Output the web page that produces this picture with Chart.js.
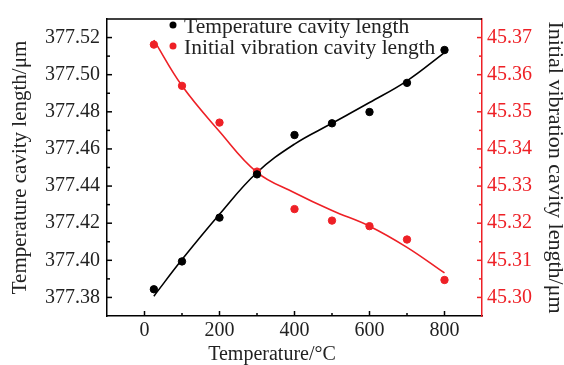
<!DOCTYPE html>
<html>
<head>
<meta charset="utf-8">
<script src="https://cdn.jsdelivr.net/npm/chart.js@4/dist/chart.umd.min.js"></script>
<style>
  html, body { margin: 0; padding: 0; background: #fff; }
  #wrap { width: 564px; height: 365px; }
</style>
</head>
<body>
<div id="wrap"><canvas id="chart" width="564" height="365"></canvas></div>
<script>
// measured temperatures (°C)
const temps = [25, 100, 200, 300, 400, 500, 600, 700, 800];

// temperature cavity length (μm), left axis
const tempCavity = [377.3844, 377.3994, 377.4230, 377.4463, 377.4675, 377.4738, 377.4799, 377.4956, 377.5133];
// initial vibration cavity length (μm), right axis
const vibCavity = [45.3681, 45.3570, 45.3471, 45.3339, 45.3238, 45.3207, 45.3192, 45.3156, 45.3047];

// fitted curves at the same temperatures
const tempCavityFit = [377.3807, 377.4004, 377.4248, 377.4473, 377.4626, 377.4738, 377.4850, 377.4967, 377.5119];
const vibCavityFit = [45.3693, 45.3570, 45.3447, 45.3337, 45.3282, 45.3234, 45.3192, 45.3135, 45.3066];

// axis ticks
const xTicks = [0, 200, 400, 600, 800];
const leftTicks = [377.38, 377.40, 377.42, 377.44, 377.46, 377.48, 377.50, 377.52];
const rightTicks = [45.30, 45.31, 45.32, 45.33, 45.34, 45.35, 45.36, 45.37];

const seriesNames = ["Temperature cavity length", "Initial vibration cavity length"];

const RED = "rgb(238,32,38)";
const BLACK = "#000";
const FONT = "'Liberation Serif', 'DejaVu Serif', serif";

Chart.defaults.font.family = FONT;
Chart.defaults.font.size = 20;
Chart.defaults.color = "#222";

const pts = (ys) => temps.map((t, i) => ({ x: t, y: ys[i] }));

// inward major/minor ticks, top frame line, legend and x title
const decor = {
  id: "decor",
  afterDraw(chart) {
    const ctx = chart.ctx;
    const area = chart.chartArea;
    ctx.save();
    ctx.lineWidth = 1.5;

    // top frame
    ctx.strokeStyle = BLACK;
    ctx.beginPath();
    ctx.moveTo(area.left, area.top);
    ctx.lineTo(area.right, area.top);
    ctx.stroke();

    const drawTicks = (scale, values, side, color) => {
      const step = values[1] - values[0];
      const minor = [values[0] - step / 2].concat(values.map(v => v + step / 2))
        .filter(v => v > scale.min && v < scale.max);
      ctx.strokeStyle = color;
      const mark = (v, len) => {
        const p = scale.getPixelForValue(v);
        ctx.beginPath();
        if (side === "bottom") { ctx.moveTo(p, area.bottom); ctx.lineTo(p, area.bottom - len); }
        if (side === "left") { ctx.moveTo(area.left, p); ctx.lineTo(area.left + len, p); }
        if (side === "right") { ctx.moveTo(area.right, p); ctx.lineTo(area.right - len, p); }
        ctx.stroke();
      };
      values.forEach(v => mark(v, 5));
      minor.forEach(v => mark(v, 3));
    };
    drawTicks(chart.scales.x, xTicks, "bottom", BLACK);
    drawTicks(chart.scales.y, leftTicks, "left", BLACK);
    drawTicks(chart.scales.y1, rightTicks, "right", RED);

    // legend
    ctx.font = "21.5px " + FONT;
    ctx.textBaseline = "middle";
    ctx.textAlign = "left";
    [[BLACK, 25], [RED, 46]].forEach(([c, y], i) => {
      ctx.fillStyle = c;
      ctx.beginPath();
      ctx.arc(173, y, 3.5, 0, Math.PI * 2);
      ctx.fill();
      ctx.fillStyle = "#222";
      ctx.fillText(seriesNames[i], 184, y + 2.5);
    });

    // x axis title
    ctx.font = "20px " + FONT;
    ctx.textAlign = "center";
    ctx.fillText("Temperature/°C", 272, 355);
    ctx.restore();
  }
};

new Chart(document.getElementById("chart"), {
  type: "scatter",
  data: {
    datasets: [
      {
        label: seriesNames[0],
        data: pts(tempCavity),
        yAxisID: "y",
        backgroundColor: BLACK,
        borderColor: BLACK,
        pointRadius: 3.7,
        showLine: false
      },
      {
        label: seriesNames[1],
        data: pts(vibCavity),
        yAxisID: "y1",
        backgroundColor: RED,
        borderColor: RED,
        pointRadius: 3.7,
        showLine: false
      },
      {
        label: "fit1",
        data: pts(tempCavityFit),
        yAxisID: "y",
        showLine: true,
        borderColor: BLACK,
        borderWidth: 1.6,
        pointRadius: 0,
        tension: 0.4
      },
      {
        label: "fit2",
        data: pts(vibCavityFit),
        yAxisID: "y1",
        showLine: true,
        borderColor: RED,
        borderWidth: 1.6,
        pointRadius: 0,
        tension: 0.4
      }
    ]
  },
  options: {
    responsive: false,
    animation: false,
    layout: { padding: { top: 11, left: 0, right: 0, bottom: 0 } },
    plugins: { legend: { display: false }, tooltip: { enabled: false } },
    scales: {
      x: {
        type: "linear",
        min: -100,
        max: 900,
        afterBuildTicks: s => { s.ticks = xTicks.map(v => ({ value: v })); },
        afterFit: s => { s.height = 49; },
        grid: { display: false, drawTicks: false },
        border: { color: BLACK, width: 1.5 },
        ticks: { color: "#222", padding: 3, maxRotation: 0 },
        title: { display: false }
      },
      y: {
        position: "left",
        min: 377.37,
        max: 377.53,
        afterBuildTicks: s => { s.ticks = leftTicks.map(v => ({ value: v })); },
        afterFit: s => { s.width = 107; },
        grid: { display: false, drawTicks: false },
        border: { color: BLACK, width: 1.5 },
        ticks: { color: "#222", padding: 7, callback: v => v.toFixed(2) },
        title: {
          display: true,
          text: "Temperature cavity length/μm",
          color: "#222",
          font: { size: 21, lineHeight: 1 },
          padding: { top: 9.5, bottom: 0 }
        }
      },
      y1: {
        position: "right",
        min: 45.295,
        max: 45.375,
        afterBuildTicks: s => { s.ticks = rightTicks.map(v => ({ value: v })); },
        afterFit: s => { s.width = 82; },
        grid: { display: false, drawTicks: false },
        border: { color: RED, width: 1.5 },
        ticks: { color: RED, padding: 5, callback: v => v.toFixed(2) },
        title: {
          display: true,
          text: "Initial vibration cavity length/μm",
          color: "#222",
          font: { size: 22, lineHeight: 1 },
          padding: { top: -2, bottom: 0 }
        }
      }
    }
  },
  plugins: [decor]
});
</script>
</body>
</html>
